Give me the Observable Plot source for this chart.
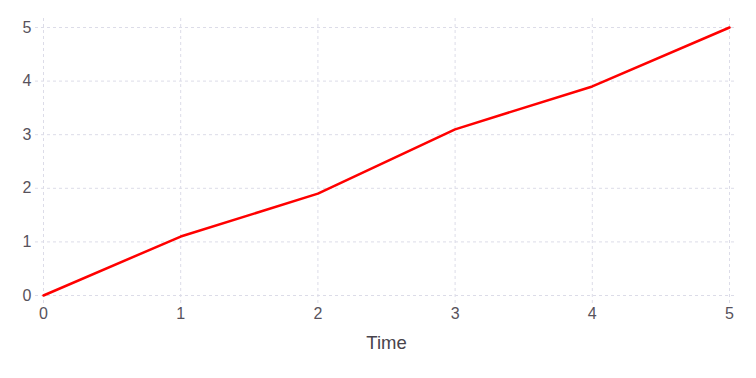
<!DOCTYPE html>
<html>
<head>
<meta charset="utf-8">
<script src="https://cdn.jsdelivr.net/npm/d3@7"></script>
<script src="https://cdn.jsdelivr.net/npm/@observablehq/plot@0.6"></script>
<style>
  html, body { margin: 0; padding: 0; background: #fff; }
  #chart svg { display: block; }
</style>
</head>
<body>
<div id="chart"></div>
<script>
const times = [0, 1, 2, 3, 4, 5];
const values = [0, 1.1, 1.9, 3.1, 3.9, 5];
const xTicks = [0, 1, 2, 3, 4, 5];
const yTicks = [0, 1, 2, 3, 4, 5];

const data = times.map((t, i) => ({time: t, value: values[i]}));

const plot = Plot.plot({
  width: 756,
  height: 378,
  marginLeft: 43,
  marginRight: 27,
  marginTop: 27,
  marginBottom: 83,
  style: {fontFamily: "'Liberation Sans', Arial, sans-serif", fontSize: "15px", color: "#57525c", background: "#fff"},
  x: {domain: [0, 5], label: null},
  y: {domain: [0, 5], label: null},
  marks: [
    Plot.ruleX(xTicks, {stroke: "#dcdce8", strokeDasharray: "3,3", strokeWidth: 1, insetTop: -9, insetBottom: -8}),
    Plot.ruleY(yTicks, {stroke: "#dcdce8", strokeDasharray: "3,3", strokeWidth: 1, insetLeft: -8, insetRight: -8}),
    Plot.axisX({ticks: xTicks, tickFormat: "d", tickSize: 0, tickPadding: 12, fill: "#57525c", fontSize: 16, label: null}),
    Plot.axisY({ticks: yTicks, tickFormat: "d", tickSize: 0, tickPadding: 12, fill: "#57525c", fontSize: 16, label: null}),
    Plot.text(["Time"], {frameAnchor: "bottom", dy: 53, fill: "#48444c", fontSize: 18.5}),
    Plot.line(data, {x: "time", y: "value", stroke: "#ff0000", strokeWidth: 2.5})
  ]
});
document.getElementById("chart").appendChild(plot);
</script>
</body>
</html>
